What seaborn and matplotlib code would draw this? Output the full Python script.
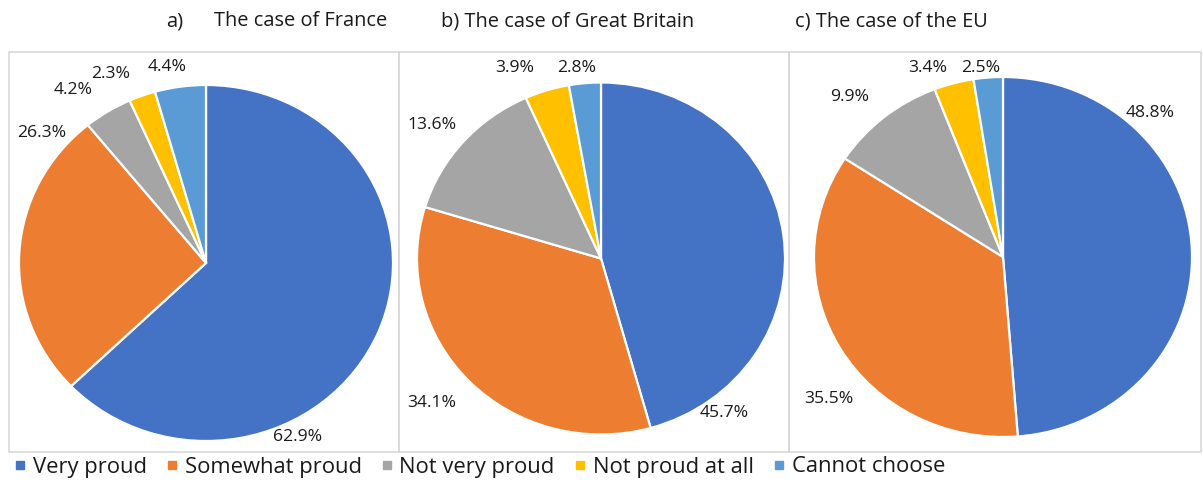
import matplotlib
matplotlib.use("Agg")
import matplotlib.pyplot as plt
import seaborn as sns
from matplotlib.lines import Line2D
from matplotlib.patches import Rectangle

# ---------------- data ----------------
categories = ["Very proud", "Somewhat proud", "Not very proud", "Not proud at all", "Cannot choose"]
france = [62.9, 26.3, 4.2, 2.3, 4.4]
great_britain = [45.7, 34.1, 13.6, 3.9, 2.8]
eu = [48.8, 35.5, 9.9, 3.4, 2.5]
panel_letters = ["a)", "b)", "c)"]
panel_titles = ["The case of France", "The case of Great Britain", "The case of the EU"]
series = [france, great_britain, eu]

# ---------------- style ----------------
sns.set_theme(style="white")
plt.rcParams["font.family"] = ["Open Sans", "DejaVu Sans"]
colors = sns.color_palette(["#4472C4", "#ED7D31", "#A5A5A5", "#FFC000", "#5B9BD5"])
text_color = "#1a1a1a"

W, H = 1203, 482
fig = plt.figure(figsize=(W / 100, H / 100), dpi=100)
fig.patch.set_facecolor("white")

def fx(px):
    return px / W

def fy(py):
    return 1 - py / H

# panel frames (pixel layout)
frames = [(9, 399), (399, 789), (789, 1201)]
frame_top, frame_bottom = 52, 452
for x0, x1 in frames:
    fig.add_artist(Rectangle((fx(x0), fy(frame_bottom)), fx(x1) - fx(x0), fy(frame_top) - fy(frame_bottom),
                             transform=fig.transFigure, fill=False, edgecolor="#D9D9D9", linewidth=1.2))

# pie geometry: centre x, centre y, radius x, radius y (pixels)
pie_geom = [(206, 263, 187, 178), (601, 258.5, 184, 176), (1003, 257, 189, 180)]

# label positions in normalised pie coordinates
label_pos = [
    [(0.49, -0.98), (-0.88, 0.73), (-0.71, 0.97), (-0.51, 1.06), (-0.21, 1.10)],
    [(0.67, -0.88), (-0.92, -0.82), (-0.92, 0.76), (-0.47, 1.08), (-0.13, 1.08)],
    [(0.78, 0.80), (-0.92, -0.79), (-0.81, 0.89), (-0.40, 1.05), (-0.12, 1.05)],
]

for vals, (cx, cy, rx, ry), lpos in zip(series, pie_geom, label_pos):
    ax = fig.add_axes([fx(cx - rx), fy(cy + ry), 2 * rx / W, 2 * ry / H])
    ax.pie(vals, colors=colors, startangle=90, counterclock=False,
           wedgeprops=dict(edgecolor="white", linewidth=1.6))
    ax.set_aspect("auto")
    ax.set_xlim(-1, 1)
    ax.set_ylim(-1, 1)
    ax.axis("off")
    for v, (lx, ly) in zip(vals, lpos):
        ax.text(lx, ly, f"{v:.1f}%", ha="center", va="center", fontsize=12.6, color=text_color)

# titles
title_y = fy(21)
tfs = 14.4
fig.text(fx(166), title_y, panel_letters[0], ha="left", va="center", fontsize=tfs, color=text_color)
fig.text(fx(214), title_y, panel_titles[0], ha="left", va="center", fontsize=tfs, color=text_color)
fig.text(fx(568), title_y, f"{panel_letters[1]} {panel_titles[1]}", ha="center", va="center", fontsize=tfs, color=text_color)
fig.text(fx(795), title_y, f"{panel_letters[2]} {panel_titles[2]}", ha="left", va="center", fontsize=tfs, color=text_color)

# legend
handles = [Line2D([0], [0], marker="s", linestyle="none", markersize=6, markerfacecolor=c, markeredgecolor=c)
           for c in colors]
fig.legend(handles, categories, loc="center left", bbox_to_anchor=(fx(15), fy(467)), ncol=5,
           frameon=False, fontsize=15.8, handlelength=0.45, handletextpad=0.35, columnspacing=0.93,
           borderaxespad=0, borderpad=0, labelcolor=text_color)

fig.savefig("out.png", dpi=100, facecolor="white")
